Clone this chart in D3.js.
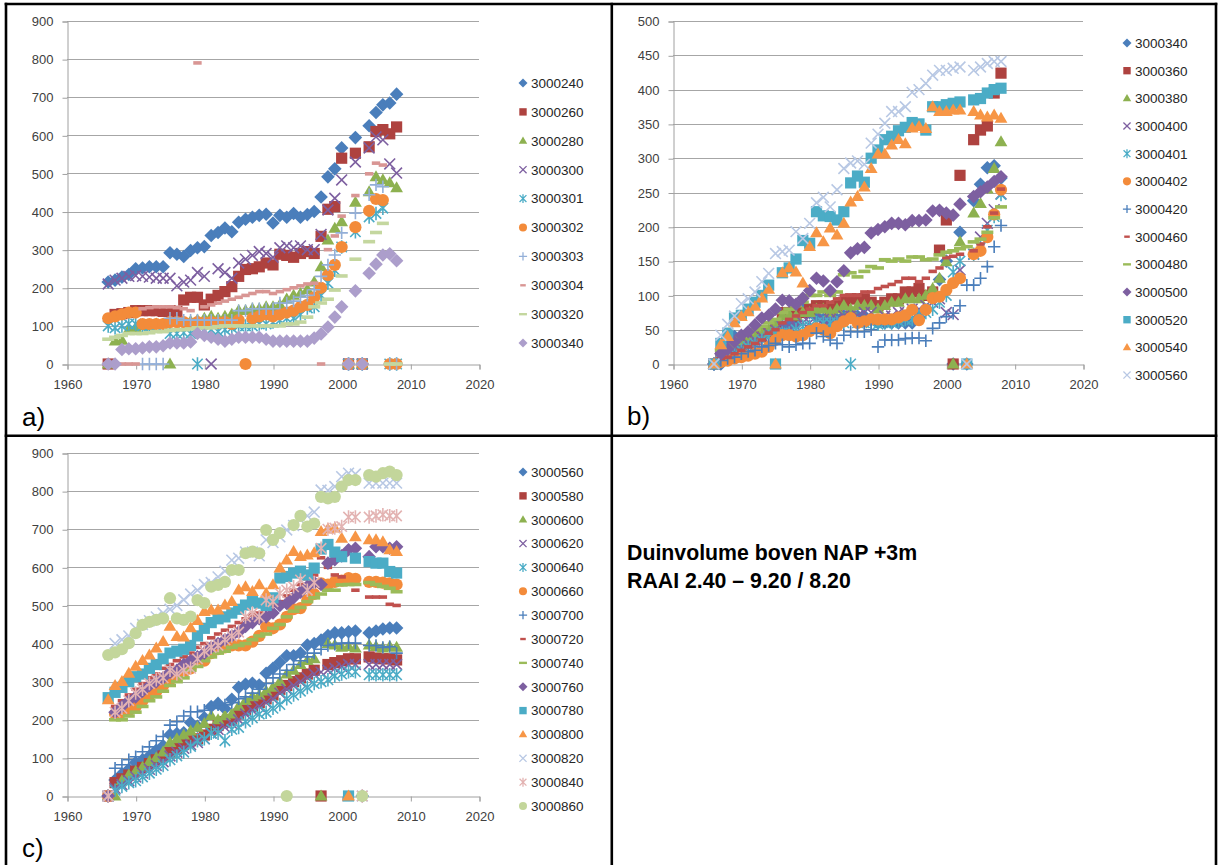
<!DOCTYPE html>
<html>
<head>
<meta charset="utf-8">
<script src="https://cdn.jsdelivr.net/npm/d3@7"></script>
<style>
  body { margin: 0; background: #fff; }
  svg { display: block; }
  text { font-family: Arial, "Liberation Sans", sans-serif; }
</style>
</head>
<body>
<svg id="chart" width="1222" height="865"></svg>
<script>
// Survey years (one value per year per transect; null = no measurement)
const years = [1966, 1967, 1968, 1969,
  1970, 1971, 1972, 1973, 1974, 1975, 1976, 1977, 1978, 1979,
  1980, 1981, 1982, 1983, 1984, 1985, 1986, 1987, 1988, 1989,
  1990, 1991, 1992, 1993, 1994, 1995, 1996, 1997, 1998, 1999,
  2000, 2001, 2002, 2003, 2004, 2005, 2006, 2007, 2008];

// Dune volume above NAP +3m per transect (m3/m)
const v3000240 = [215, 220, 228, 235,
  250, 252, 255, 255, 255, 292, 288, 282, 298, 305,
  308, 337, 345, 357, 347, 372, 380, 385, 390, 393,
  370, 390, 385, 395, 385, 392, 400, 438, 491, 512,
  567, 0, 594, 0, 625, 660, 680, 685, 708];
const v3000260 = [0, 130, 132, 135,
  140, 140, 140, 140, 138, 140, 138, 168, 175, 175,
  155, 170, 180, 190, 203, 230, 248, 250, 255, 265,
  260, 288, 285, 280, 290, 295, 290, 335, 406, 413,
  540, 0, 553, 0, 570, 610, 615, 604, 622];
const v3000280 = [0, 60, 62, 90,
  95, 100, 100, 105, 105, 0, 110, 110, 112, 115,
  120, 125, 120, 125, 130, 140, 140, 145, 145, 150,
  150, 155, 170, 180, 185, 195, 215, 255, 325, 356,
  373, 0, 424, 0, 452, 491, 483, 475, 462];
const v3000300 = [210, 220, 225, 230,
  232, 230, 228, 225, 225, 225, 205, 215, 220, 240,
  230, 0, 250, 240, 225, 265, 275, 285, 295, 290,
  280, 305, 310, 305, 310, 300, 300, 340, 404, 435,
  483, 0, 530, 0, 567, 596, 588, 525, 501];
const v3000301 = [100, 95, 100, 105,
  105, 100, 100, 100, 100, 80, 80, 82, 80, 0,
  85, 90, 85, 90, 95, 100, 100, 100, 105, 105,
  110, 115, 120, 120, 130, 147, 150, 180, 212, 246,
  307, 0, 347, 0, 386, 395, 409, 0, 0];
const v3000302 = [120, 125, 130, 135,
  135, 105, 105, 105, 105, 110, 110, 110, 105, 110,
  108, 110, 108, 110, 105, 115, 0, 120, 125, 130,
  125, 130, 135, 140, 150, 155, 175, 200, 233, 260,
  307, 0, 359, 0, 402, 433, 430, 0, 0];
const v3000303 = [null, null, null, null,
  null, 0, 0, 0, 0, 120, 120, 115, 115, 115,
  115, 115, 115, 115, 115, 140, 140, 145, 145, 145,
  145, 160, 160, 165, 175, 180, 195, 230, 260, 286,
  344, 0, 396, 0, 444, 470, 465, 0, 0];
const v3000304 = [null, null, 0, 0,
  0, 145, 148, 150, 150, 150, 148, 145, 140, 790,
  150, 155, 160, 165, 170, 175, 180, 185, 190, 190,
  185, 190, 195, 200, 205, 210, 212, 0, 300, 336,
  388, 0, 442, 0, 499, 527, 522, 0, 0];
const v3000320 = [65, 70, 75, 80,
  80, 80, 82, 85, 85, 88, 90, 90, 92, 95,
  95, 95, 98, 100, 100, 100, 100, 100, 100, 100,
  100, 100, 105, 105, 110, 123, 150, 160, 170, 194,
  231, 0, 275, 0, 321, 345, 369, 0, 0];
const v3000340 = [0, 0, 38, 40,
  40, 42, 45, 45, 48, 55, 55, 55, 58, 80,
  75, 70, 65, 60, 65, 70, 70, 70, 70, 65,
  60, 60, 60, 60, 60, 60, 68, 79, 97, 123,
  150, 0, 192, 0, 238, 262, 286, 289, 271];
const v3000360 = [0, 10, 15, 20,
  25, 30, 35, 40, 45, 50, 75, 75, 70, 75,
  80, 85, 85, 80, 85, 90, 95, 95, 95, 90,
  85, 90, 95, 95, 105, 105, 110, 100, 105, 166,
  210, 0, 275, null, 327, 341, 347, 395, 424];
const v3000380 = [0, 10, 15, 25,
  30, 35, 40, 45, 50, 55, 70, 72, 70, 75,
  75, 80, 80, 75, 80, 85, 80, 85, 85, 85,
  80, 85, 90, 90, 95, 95, 95, 100, 110, 125,
  149, 0, 178, null, 220, 234, 255, 285, 324];
const v3000400 = [0, 10, 15, 20,
  25, 30, 35, 40, 45, 50, 55, 55, 55, 60,
  60, 60, 65, 65, 65, 70, 70, 70, 75, 75,
  65, 70, 70, 75, 75, 80, 80, 85, 90, 95,
  75, 72, 137, null, 160, 185, 205, 225, 248];
const v3000401 = [0, 5, 10, 15,
  20, 25, 30, 35, 40, 45, 45, 45, 50, 55,
  55, 60, 60, 60, 60, 60, 0, 60, 60, 60,
  58, 60, 60, 62, 65, 65, 70, 75, 80, 90,
  100, 134, 150, null, 160, 170, 195, 215, 247];
const v3000402 = [0, 3, 5, 8,
  10, 12, 15, 18, 25, 35, 42, 42, 40, 42,
  48, 52, 50, 45, 55, 62, 67, 60, 62, 65,
  65, 65, 65, 68, 71, 79, 64, 79, 96, 98,
  108, 118, 125, null, 160, 165, 185, 218, 254];
const v3000420 = [0, 5, 8, 10,
  15, 18, 20, 25, 27, 30, 28, 25, 28, 30,
  30, 45, 40, 35, 30, 42, 47, 47, 47, 50,
  25, 35, 35, 35, 37, 38, 38, 34, 52, 60,
  69, 74, 85, 115, 115, 125, 142, 171, 202];
const v3000460 = [null, 8, 10, 15,
  20, 25, 30, 35, 45, 50, 60, 65, 70, 75,
  80, 85, 85, 90, 95, 100, 100, 100, 105, 105,
  110, 113, 116, 120, 125, 125, 120, 125, 135, 140,
  155, 157, 160, null, 165, 175, 200, 220, 255];
const v3000480 = [null, 20, 25, 30,
  40, 45, 50, 55, 60, 65, 75, 80, 85, 90,
  100, 100, 105, 100, 105, 130, 133, 127, 135, 142,
  140, 152, 150, 153, 150, 156, 156, 152, 153, 159,
  163, 165, 168, 171, 178, 182, 192, 213, 229];
const v3000500 = [0, 15, 22, 32,
  42, 47, 57, 67, 71, 80, 93, 92, 87, 96,
  107, 125, 121, 107, 120, 136, 162, 168, 170, 191,
  196, 200, 205, 205, 203, 209, 209, 210, 223, 224,
  220, 217, 233, null, 244, 251, 258, 266, 273];
const v3000520 = [0, 30, 45, 67,
  71, 80, 90, 100, 115, 0, 133, 140, 153, 180,
  176, 222, 216, 215, 210, 222, 264, 274, 265, 300,
  312, 327, 332, 340, 345, 352, 350, 341, 375, 375,
  378, 380, 382, 0, 385, 387, 395, 400, 402];
const v3000540 = [0, 28, 40, 60,
  69, 76, 84, 96, 109, 0, 133, 140, 134, 118,
  171, 191, 178, 198, 188, 205, 236, 244, 258, 285,
  306, 306, 319, 327, 321, 344, 346, 343, 375, 368,
  368, 370, 370, 0, 368, 363, 360, 363, 358];
const v3000560 = [0, 42, 58, 70,
  88, 95, 105, 120, 132, 161, 164, 166, 193, 183,
  205, 235, 243, 229, 254, 285, 293, 296, 291, 322,
  335, 351, 368, 368, 375, 396, 400, 409, 421, 428,
  428, 431, 433, 0, 428, 433, 438, 441, 441];
const v3000580 = [0, 35, 45, 55,
  65, 75, 85, 95, 105, 115, 125, 135, 145, 150,
  160, 175, 185, 195, 200, 215, 225, 235, 245, 255,
  265, 280, 290, 300, 310, 320, 330, 0, 345, 350,
  355, 360, 360, null, 365, 362, 360, 360, 357];
const v3000600 = [0, 0, 40, 55,
  65, 75, 90, 100, 115, 140, 150, 160, 170, 180,
  190, 210, 200, 210, 215, 235, 250, 260, 265, 275,
  285, 300, 320, 330, 345, 355, 360, 0, 400, 396,
  390, 392, 388, null, 396, 392, 388, 392, 390];
const v3000620 = [0, 20, 30, 40,
  50, 60, 70, 80, 90, 105, 115, 125, 135, 140,
  150, 165, 175, 180, 190, 200, 215, 225, 235, 245,
  255, 270, 280, 290, 300, 310, 320, 325, 330, 335,
  340, 345, 345, null, 345, 345, 345, 345, 345];
const v3000640 = [0, 15, 25, 35,
  40, 50, 60, 70, 80, 95, 105, 115, 130, 145,
  150, 165, 165, 145, 175, 180, 195, 205, 215, 220,
  230, 240, 255, 265, 275, 285, 295, 300, 305, 315,
  320, 326, 326, null, 318, 318, 318, 318, 318];
const v3000660 = [0, 215, 220, 225,
  235, 250, 265, 275, 290, 305, 315, 325, 335, 360,
  355, 375, 385, 390, 395, 395, 395, 405, 420, 444,
  440, 450, 470, 490, 493, 514, 530, 558, 555, 562,
  565, 572, 570, null, 562, 562, 560, 558, 555];
const v3000700 = [0, 73, 82, 95,
  103, 116, 129, 145, 156, 186, 195, 210, 221, 221,
  225, 230, 239, 239, 245, 255, 260, 270, 280, 295,
  310, 320, 330, 345, 355, 365, 375, 385, 395, 398,
  401, 401, 401, null, 395, 395, 390, 392, 375];
const v3000720 = [null, 235, 250, 265,
  280, 295, 310, 320, 335, 345, 355, 365, 375, 390,
  400, 415, 425, 435, 445, 455, 465, 475, 480, 490,
  500, 510, 525, 540, 555, 570, 580, 625, 600, 580,
  575, null, 540, null, 522, 522, 522, 503, 500];
const v3000740 = [null, 200, 200, 210,
  220, 235, 250, 260, 275, 290, 300, 310, 330, 340,
  355, 365, 375, 380, 390, 395, 400, 410, 420, 425,
  440, 450, 470, 485, 495, 510, 520, 530, 540, 540,
  554, 555, 555, null, 560, 555, 550, 545, 536];
const v3000760 = [0, 220, 235, 250,
  260, 275, 290, 300, 310, 325, 330, 345, 355, 365,
  375, 390, 400, 410, 420, 430, 445, 455, 465, 470,
  480, 500, 505, 520, 535, 550, 560, 555, 611, 620,
  630, 646, 650, null, 628, 654, 654, 650, 654];
const v3000780 = [258, 272, 285, 300,
  313, 320, 335, 345, 360, 375, 380, 385, 395, 420,
  440, 455, 465, 470, 480, 490, 501, 510, 506, 500,
  520, 572, 576, 585, 590, 580, 598, 648, 660, 640,
  628, 0, 624, null, 615, 611, 611, 589, 585];
const v3000800 = [252, 290, 300, 322,
  340, 355, 370, 388, 405, 445, 418, 417, 441, 460,
  484, 488, 488, 501, 510, 540, 549, 536, 554, 532,
  554, 598, 619, 641, 628, 632, 638, 694, 700, 703,
  676, 0, 680, null, 672, 672, 667, 646, 641];
const v3000820 = [0, 400, 410, 420,
  440, 450, 460, 470, 480, 490, 500, 515, 530, 540,
  555, 560, 575, 590, 619, 624, 640, 640, 630, 672,
  665, 680, 698, 710, 725, 735, 745, 803, 802, 812,
  838, 847, 845, 0, 821, 821, 821, 821, 821];
const v3000840 = [0, 220, 230, 250,
  270, 280, 295, 305, 310, 330, 320, 330, 335, 360,
  380, 390, 395, 410, 420, 430, 470, 480, 470, 514,
  510, 532, 540, 549, 567, 540, 560, 650, 700, 703,
  707, 732, 732, 0, 732, 735, 738, 735, 735];
const v3000860 = [370, 377, 385, 401,
  427, 449, 457, 462, 466, 519, 466, 462, 471, 514,
  506, 549, 554, 562, 593, 593, 637, 641, 637, 698,
  672, 690, 0, 711, 735, 707, 715, 785, 781, 785,
  812, 829, 829, 0, 842, 838, 847, 851, 842];

const values = {
  "3000240": v3000240, "3000260": v3000260, "3000280": v3000280, "3000300": v3000300,
  "3000301": v3000301, "3000302": v3000302, "3000303": v3000303, "3000304": v3000304,
  "3000320": v3000320, "3000340": v3000340, "3000360": v3000360, "3000380": v3000380,
  "3000400": v3000400, "3000401": v3000401, "3000402": v3000402, "3000420": v3000420,
  "3000460": v3000460, "3000480": v3000480, "3000500": v3000500, "3000520": v3000520,
  "3000540": v3000540, "3000560": v3000560, "3000580": v3000580, "3000600": v3000600,
  "3000620": v3000620, "3000640": v3000640, "3000660": v3000660, "3000700": v3000700,
  "3000720": v3000720, "3000740": v3000740, "3000760": v3000760, "3000780": v3000780,
  "3000800": v3000800, "3000820": v3000820, "3000840": v3000840, "3000860": v3000860
};

// Transects per panel, in legend order
const seriesA = ["3000240", "3000260", "3000280", "3000300", "3000301", "3000302",
  "3000303", "3000304", "3000320", "3000340"];
const seriesB = ["3000340", "3000360", "3000380", "3000400", "3000401", "3000402",
  "3000420", "3000460", "3000480", "3000500", "3000520", "3000540", "3000560"];
const seriesC = ["3000560", "3000580", "3000600", "3000620", "3000640", "3000660",
  "3000700", "3000720", "3000740", "3000760", "3000780", "3000800", "3000820",
  "3000840", "3000860"];

const xTicks = [1960, 1970, 1980, 1990, 2000, 2010, 2020];
const yTicksA = [0, 100, 200, 300, 400, 500, 600, 700, 800, 900];
const yTicksB = [0, 50, 100, 150, 200, 250, 300, 350, 400, 450, 500];
const yTicksC = [0, 100, 200, 300, 400, 500, 600, 700, 800, 900];

// Marker shape per series position (spreadsheet default cycle)
const shapes = ["diamond", "square", "triangle", "x", "star", "circle", "plus",
  "dash", "longdash", "diamond", "square", "triangle", "x", "star", "circle"];

const colorsA = ["#4A7EBB", "#AE423F", "#8DB150", "#7D5FA0", "#4BACC6", "#F38B3A",
  "#93AFD8", "#D99694", "#C4D79F", "#AC9ECB"];
const colorsB = ["#4A7EBB", "#AE423F", "#8DB150", "#7D5FA0", "#4BACC6", "#F38B3A",
  "#4A7EBB", "#C0504D", "#9BBB59", "#7D5FA0", "#4BACC6", "#F79646", "#B8C8E4"];
const colorsC = ["#4A7EBB", "#AE423F", "#8DB150", "#7D5FA0", "#4BACC6", "#F38B3A",
  "#4A7EBB", "#C0504D", "#9BBB59", "#7D5FA0", "#4BACC6", "#F79646", "#B8C8E4",
  "#E3B3B2", "#C3D69B"];

const svg = d3.select("#chart");

// Draws one marker centred on (0,0) inside selection g
function marker(g, shape, color, k) {
  const strokeShapes = { x: 1, star: 1, plus: 1 };
  let d;
  if (shape === "diamond") { const r = 6.8 * k; d = `M0,${-r}L${r},0L0,${r}L${-r},0Z`; }
  else if (shape === "square") { const r = 5.6 * k; d = `M${-r},${-r}H${r}V${r}H${-r}Z`; }
  else if (shape === "triangle") { const w = 6.4 * k, h = 11 * k; d = `M0,${-h * 0.6}L${w},${h * 0.4}L${-w},${h * 0.4}Z`; }
  else if (shape === "circle") { const r = 6.1 * k; d = `M${r},0A${r},${r} 0 1,1 ${-r},0A${r},${r} 0 1,1 ${r},0Z`; }
  else if (shape === "x") { const r = 5.4 * k; d = `M${-r},${-r}L${r},${r}M${r},${-r}L${-r},${r}`; }
  else if (shape === "star") { const r = 5.2 * k; d = `M${-r},${-r}L${r},${r}M${r},${-r}L${-r},${r}M0,${-r * 1.3}V${r * 1.3}`; }
  else if (shape === "plus") { const r = 6.2 * k; d = `M${-r},0H${r}M0,${-r}V${r}`; }
  else if (shape === "dash") { const w = 4.2 * k, h = 1.8 * k; d = `M${-w},${-h}H${w}V${h}H${-w}Z`; }
  else if (shape === "longdash") { const w = 6 * k, h = 1.8 * k; d = `M${-w},${-h}H${w}V${h}H${-w}Z`; }
  const p = g.append("path").attr("d", d);
  if (strokeShapes[shape]) p.attr("fill", "none").attr("stroke", color).attr("stroke-width", 1.6 * Math.max(k, 0.8));
  else p.attr("fill", color);
  return p;
}

function panel(cfg) {
  const x = d3.scaleLinear().domain([1960, 2020]).range([cfg.x0, cfg.x1]);
  const y = d3.scaleLinear().domain([0, cfg.yTicks[cfg.yTicks.length - 1]]).range([cfg.y0, cfg.y1]);
  const g = svg.append("g");

  // horizontal gridlines
  g.append("g").selectAll("line").data(cfg.yTicks.slice(1)).join("line")
    .attr("x1", cfg.x0).attr("x2", cfg.x1)
    .attr("y1", d => Math.round(y(d)) + 0.5).attr("y2", d => Math.round(y(d)) + 0.5)
    .attr("stroke", "#A6A6A6").attr("stroke-width", 1);

  // value axis
  const ya = g.append("g").attr("transform", `translate(${Math.round(cfg.x0) + 0.5},0.5)`)
    .call(d3.axisLeft(y).tickValues(cfg.yTicks).tickSize(5).tickPadding(9).tickFormat(d3.format("d")));
  ya.select(".domain").attr("stroke", "#A0A0A0");
  ya.selectAll(".tick line").attr("stroke", "#A0A0A0");
  ya.selectAll(".tick text").attr("fill", "#404040").style("font-size", "13px")
    .style("font-family", "Arial, 'Liberation Sans', sans-serif");

  // year axis
  const xa = g.append("g").attr("transform", `translate(0.5,${Math.round(cfg.y0) + 0.5})`)
    .call(d3.axisBottom(x).tickValues(xTicks).tickSize(5).tickPadding(10).tickFormat(d3.format("d")));
  xa.select(".domain").attr("stroke", "#A0A0A0");
  xa.selectAll(".tick line").attr("stroke", "#A0A0A0");
  xa.selectAll(".tick text").attr("fill", "#404040").style("font-size", "13px")
    .style("font-family", "Arial, 'Liberation Sans', sans-serif");

  // markers, series drawn in order so later ones sit on top
  cfg.series.forEach((name, i) => {
    const vals = values[name];
    const pts = years.map((yr, j) => ({ yr, v: vals[j] })).filter(p => p.v !== null);
    const sg = g.append("g");
    pts.forEach(p => {
      const mg = sg.append("g").attr("transform", `translate(${x(p.yr)},${y(p.v)})`);
      marker(mg, shapes[i], cfg.colors[i], 1);
    });
  });

  // legend
  const lg = g.append("g");
  cfg.series.forEach((name, i) => {
    const row = lg.append("g").attr("transform", `translate(${cfg.legX},${cfg.legY + i * cfg.legStep})`);
    marker(row, shapes[i], cfg.colors[i], 0.66);
    row.append("text").attr("x", 8).attr("dy", "0.36em").text(name)
      .attr("fill", "#262626").style("font-size", "13.5px");
  });

  // panel label
  svg.append("text").attr("x", cfg.labelX).attr("y", cfg.labelY).text(cfg.label)
    .attr("fill", "#000").style("font-size", "26px");
}

panel({ series: seriesA, colors: colorsA, yTicks: yTicksA, x0: 67, x1: 479, y0: 364, y1: 21,
  legX: 523, legY: 83, legStep: 28.9, label: "a)", labelX: 22, labelY: 426 });
panel({ series: seriesB, colors: colorsB, yTicks: yTicksB, x0: 673, x1: 1083, y0: 364, y1: 21,
  legX: 1127, legY: 43, legStep: 27.67, label: "b)", labelX: 627, labelY: 425 });
panel({ series: seriesC, colors: colorsC, yTicks: yTicksC, x0: 67, x1: 479, y0: 796, y1: 453,
  legX: 523, legY: 472, legStep: 23.86, label: "c)", labelX: 22, labelY: 857 });

// caption in the fourth cell
const cap = svg.append("g").style("font-weight", "bold").style("font-size", "21.3px").attr("fill", "#000");
cap.append("text").attr("x", 627).attr("y", 560).text("Duinvolume boven NAP +3m");
cap.append("text").attr("x", 627).attr("y", 588).text("RAAI 2.40 \u2013 9.20 / 8.20");

// table frame
const frame = svg.append("g").attr("stroke", "#000").attr("stroke-width", 2.6);
frame.append("line").attr("x1", 4.7).attr("x2", 1217.3).attr("y1", 4).attr("y2", 4);
frame.append("line").attr("x1", 4.7).attr("x2", 1217.3).attr("y1", 435.7).attr("y2", 435.7);
frame.append("line").attr("x1", 6).attr("x2", 6).attr("y1", 2.7).attr("y2", 865);
frame.append("line").attr("x1", 611.8).attr("x2", 611.8).attr("y1", 2.7).attr("y2", 865);
frame.append("line").attr("x1", 1216).attr("x2", 1216).attr("y1", 2.7).attr("y2", 865);
</script>
</body>
</html>
